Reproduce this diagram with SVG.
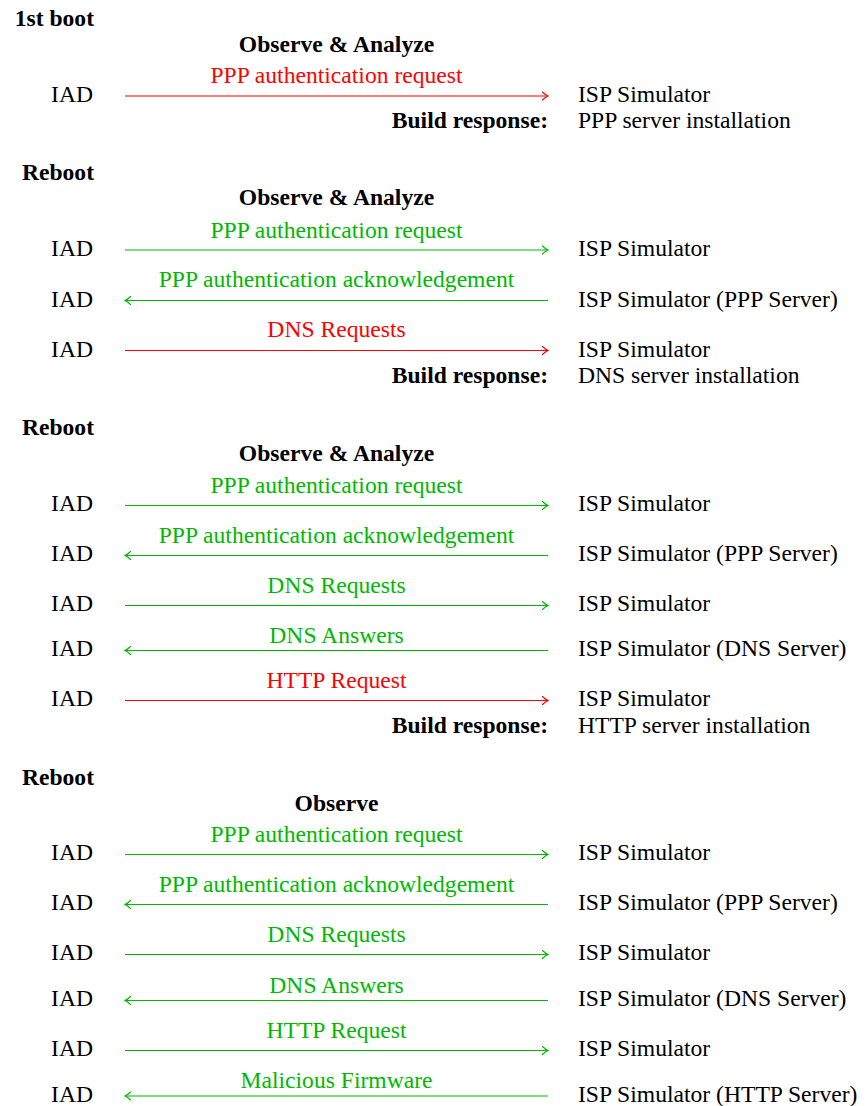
<svg xmlns="http://www.w3.org/2000/svg" width="865" height="1106" viewBox="0 0 865 1106">
<style>
text{font-family:'Liberation Serif','Times New Roman',Times,'DejaVu Serif',serif;font-size:23.6px;fill:#000}
.b{font-weight:bold}
.e{text-anchor:end}
.m{text-anchor:middle}
.g{fill:#00b800}
.r{fill:#ff0000}
.lg{stroke:#00b800;stroke-width:1.1;fill:none}
.lr{stroke:#ff0000;stroke-width:1.1;fill:none}
</style>
<defs>
<marker id="ag" viewBox="-8 -6 10 12" refX="0" refY="0" markerWidth="10" markerHeight="12" markerUnits="userSpaceOnUse" orient="auto" overflow="visible"><path d="M-5.5,-4 Q-2.5,-1 0,0 Q-2.5,1 -5.5,4" fill="none" stroke="#00b800" stroke-width="1.1" stroke-linecap="round"/></marker>
<marker id="ar" viewBox="-8 -6 10 12" refX="0" refY="0" markerWidth="10" markerHeight="12" markerUnits="userSpaceOnUse" orient="auto" overflow="visible"><path d="M-5.5,-4 Q-2.5,-1 0,0 Q-2.5,1 -5.5,4" fill="none" stroke="#ff0000" stroke-width="1.1" stroke-linecap="round"/></marker>
</defs>

<g id="headings" font-family="Liberation Serif, serif">
<text class="b e" x="94" y="25.5">1st boot</text>
<text class="b m" x="336.5" y="51.5">Observe &amp; Analyze</text>
<text class="b e" x="94" y="179.5">Reboot</text>
<text class="b m" x="336.5" y="205">Observe &amp; Analyze</text>
<text class="b e" x="94" y="435">Reboot</text>
<text class="b m" x="336.5" y="460.5">Observe &amp; Analyze</text>
<text class="b e" x="94" y="784.5">Reboot</text>
<text class="b m" x="336.5" y="810.5">Observe</text>
</g>

<g id="build">
<text class="b e" x="548" y="128">Build response:</text>
<text x="578" y="128">PPP server installation</text>
<text class="b e" x="548" y="383">Build response:</text>
<text x="578" y="383">DNS server installation</text>
<text class="b e" x="548" y="732.5">Build response:</text>
<text x="578" y="732.5">HTTP server installation</text>
</g>

<g id="iad">
<text class="e" x="93" y="101.5">IAD</text>
<text class="e" x="93" y="255.5">IAD</text>
<text class="e" x="93" y="306.5">IAD</text>
<text class="e" x="93" y="356.5">IAD</text>
<text class="e" x="93" y="511">IAD</text>
<text class="e" x="93" y="561">IAD</text>
<text class="e" x="93" y="611">IAD</text>
<text class="e" x="93" y="656">IAD</text>
<text class="e" x="93" y="706">IAD</text>
<text class="e" x="93" y="860">IAD</text>
<text class="e" x="93" y="910">IAD</text>
<text class="e" x="93" y="960">IAD</text>
<text class="e" x="93" y="1006">IAD</text>
<text class="e" x="93" y="1056">IAD</text>
<text class="e" x="93" y="1101.5">IAD</text>
</g>

<g id="isp">
<text x="578" y="101.5">ISP Simulator</text>
<text x="578" y="255.5">ISP Simulator</text>
<text x="578" y="306.5">ISP Simulator (PPP Server)</text>
<text x="578" y="356.5">ISP Simulator</text>
<text x="578" y="511">ISP Simulator</text>
<text x="578" y="561">ISP Simulator (PPP Server)</text>
<text x="578" y="611">ISP Simulator</text>
<text x="578" y="656">ISP Simulator (DNS Server)</text>
<text x="578" y="706">ISP Simulator</text>
<text x="578" y="860">ISP Simulator</text>
<text x="578" y="910">ISP Simulator (PPP Server)</text>
<text x="578" y="960">ISP Simulator</text>
<text x="578" y="1006">ISP Simulator (DNS Server)</text>
<text x="578" y="1056">ISP Simulator</text>
<text x="578" y="1101.5">ISP Simulator (HTTP Server)</text>
</g>

<g id="connectors">
<line class="lr" x1="125" y1="96" x2="548" y2="96" marker-end="url(#ar)"/>
<text class="m r" x="336.5" y="83">PPP authentication request</text>

<line class="lg" x1="125" y1="250" x2="548" y2="250" marker-end="url(#ag)"/>
<text class="m g" x="336.5" y="237.5">PPP authentication request</text>
<line class="lg" x1="548" y1="300.5" x2="125" y2="300.5" marker-end="url(#ag)"/>
<text class="m g" x="336.5" y="287">PPP authentication acknowledgement</text>
<line class="lr" x1="125" y1="350.5" x2="548" y2="350.5" marker-end="url(#ar)"/>
<text class="m r" x="336.5" y="337">DNS Requests</text>

<line class="lg" x1="125" y1="505.5" x2="548" y2="505.5" marker-end="url(#ag)"/>
<text class="m g" x="336.5" y="492.5">PPP authentication request</text>
<line class="lg" x1="548" y1="555.5" x2="125" y2="555.5" marker-end="url(#ag)"/>
<text class="m g" x="336.5" y="542.5">PPP authentication acknowledgement</text>
<line class="lg" x1="125" y1="605.5" x2="548" y2="605.5" marker-end="url(#ag)"/>
<text class="m g" x="336.5" y="592.5">DNS Requests</text>
<line class="lg" x1="548" y1="650.5" x2="125" y2="650.5" marker-end="url(#ag)"/>
<text class="m g" x="336.5" y="642.5">DNS Answers</text>
<line class="lr" x1="125" y1="700.5" x2="548" y2="700.5" marker-end="url(#ar)"/>
<text class="m r" x="336.5" y="687.5">HTTP Request</text>

<line class="lg" x1="125" y1="854.5" x2="548" y2="854.5" marker-end="url(#ag)"/>
<text class="m g" x="336.5" y="841.5">PPP authentication request</text>
<line class="lg" x1="548" y1="904.5" x2="125" y2="904.5" marker-end="url(#ag)"/>
<text class="m g" x="336.5" y="891.5">PPP authentication acknowledgement</text>
<line class="lg" x1="125" y1="954.5" x2="548" y2="954.5" marker-end="url(#ag)"/>
<text class="m g" x="336.5" y="941.5">DNS Requests</text>
<line class="lg" x1="548" y1="1000.5" x2="125" y2="1000.5" marker-end="url(#ag)"/>
<text class="m g" x="336.5" y="992.5">DNS Answers</text>
<line class="lg" x1="125" y1="1050.5" x2="548" y2="1050.5" marker-end="url(#ag)"/>
<text class="m g" x="336.5" y="1037.5">HTTP Request</text>
<line class="lg" x1="548" y1="1096" x2="125" y2="1096" marker-end="url(#ag)"/>
<text class="m g" x="336.5" y="1088">Malicious Firmware</text>
</g>
</svg>
